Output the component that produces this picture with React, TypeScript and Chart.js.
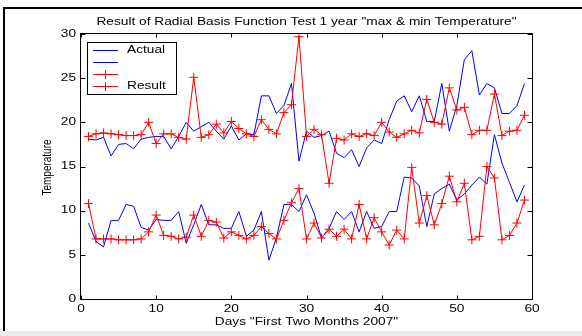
import React, { useEffect, useRef } from "react";
import { Chart, registerables } from "chart.js";

Chart.register(...registerables);

const days = [1, 2, 3, 4, 5, 6, 7, 8, 9, 10, 11, 12, 13, 14, 15, 16, 17, 18, 19, 20, 21, 22, 23, 24, 25, 26, 27, 28, 29, 30, 31, 32, 33, 34, 35, 36, 37, 38, 39, 40, 41, 42, 43, 44, 45, 46, 47, 48, 49, 50, 51, 52, 53, 54, 55, 56, 57, 58, 59];

const actualMax = [18.1, 18.0, 18.3, 16.2, 17.5, 17.6, 17.0, 18.1, 18.3, 18.4, 18.4, 17.0, 18.4, 20.0, 19.0, 19.5, 20.0, 19.0, 18.1, 19.6, 18.0, 18.7, 18.6, 23.0, 23.0, 21.0, 21.9, 24.4, 15.6, 19.0, 18.3, 18.5, 19.0, 16.5, 16.0, 16.9, 15.0, 17.1, 18.0, 17.6, 20.3, 22.4, 23.0, 21.2, 23.0, 20.1, 20.1, 24.4, 19.0, 21.9, 27.1, 28.1, 23.1, 24.4, 23.9, 21.0, 21.0, 21.9, 24.4];

const actualMin = [8.6, 6.5, 5.9, 8.9, 8.9, 10.7, 10.5, 8.1, 7.8, 9.0, 8.9, 8.9, 9.9, 6.3, 8.4, 10.7, 8.4, 8.4, 8.0, 8.0, 9.9, 7.1, 7.8, 9.9, 4.4, 6.9, 10.7, 10.7, 9.9, 11.8, 9.7, 6.9, 8.0, 9.9, 9.0, 9.9, 7.6, 9.9, 8.0, 8.2, 9.9, 9.9, 13.8, 13.7, 12.8, 8.2, 11.9, 12.5, 13.0, 11.2, 11.9, 12.9, 13.8, 13.0, 18.6, 15.4, 13.2, 11.0, 12.9];

const resultMin = [10.8, 6.8, 6.8, 6.8, 6.7, 6.7, 6.7, 6.8, 7.6, 9.5, 7.2, 7.1, 6.8, 7.0, 9.5, 7.1, 8.9, 8.7, 6.9, 7.6, 7.2, 6.8, 7.2, 8.2, 7.4, 6.8, 8.9, 10.9, 12.5, 6.8, 8.6, 6.9, 7.9, 7.1, 7.9, 6.8, 10.7, 6.8, 9.2, 7.6, 6.1, 7.8, 6.8, 14.9, 8.6, 11.7, 8.4, 10.8, 13.9, 11.0, 13.1, 6.7, 7.1, 15.0, 13.7, 6.7, 7.2, 8.6, 11.2];

const resultMax = [18.4, 18.7, 18.8, 18.7, 18.6, 18.5, 18.5, 18.6, 20.0, 17.6, 18.7, 18.7, 18.3, 18.1, 25.1, 18.3, 18.6, 19.8, 18.8, 20.1, 19.3, 18.7, 18.4, 20.3, 19.2, 18.7, 21.1, 22.0, 29.7, 18.4, 19.2, 18.6, 13.1, 18.2, 18.0, 18.7, 18.4, 18.7, 18.5, 20.0, 18.9, 18.3, 18.7, 19.1, 18.8, 22.6, 20.0, 19.8, 23.9, 21.4, 21.7, 18.6, 19.1, 19.1, 23.2, 18.5, 19.0, 19.1, 20.8];

const xTicks = [0, 10, 20, 30, 40, 50, 60];
const yTicks = [0, 5, 10, 15, 20, 25, 30];
const titleText = 'Result of Radial Basis Function Test 1 year "max & min Temperature"';
const xLabel = 'Days "First Two Months 2007"';
const yLabel = "Temperature";
const legendLabels = ["Actual", "", "", "Result"];

const BLUE = "#0000ff";
const RED = "#ff0000";
const SX = 1.37;
const FONT = "10px 'Liberation Sans', Arial, Helvetica, sans-serif";

function sText(ctx: CanvasRenderingContext2D, text: string, x: number, y: number, align: CanvasTextAlign, rotate = false) {
  ctx.save();
  ctx.translate(x, y);
  ctx.scale(SX, 1);
  if (rotate) ctx.rotate(-Math.PI / 2);
  ctx.font = FONT;
  ctx.fillStyle = "#000";
  ctx.textAlign = align;
  ctx.textBaseline = "middle";
  ctx.fillText(text, 0, 0);
  ctx.restore();
}

const framePlugin = {
  id: "frame",
  beforeDraw(chart: any) {
    const ctx = chart.ctx as CanvasRenderingContext2D;
    ctx.save();
    ctx.fillStyle = "#ffffff";
    ctx.fillRect(0, 0, chart.width, chart.height);
    ctx.fillStyle = "#ececec";
    ctx.fillRect(0, 331, chart.width, chart.height - 331);
    ctx.fillStyle = "#000";
    ctx.fillRect(3, 7, chart.width - 3, 2);
    ctx.fillRect(3, 7, 2, 324);
    ctx.restore();
  },
  afterDraw(chart: any) {
    const ctx = chart.ctx as CanvasRenderingContext2D;
    const { left, right, top, bottom } = chart.chartArea;
    const xs = chart.scales.x;
    const ys = chart.scales.y;
    ctx.save();
    ctx.strokeStyle = "#000";
    ctx.lineWidth = 1;
    const L = Math.round(left) - 0.5, R = Math.round(right) + 0.5, T = Math.round(top) - 0.5, B = Math.round(bottom) + 0.5;
    ctx.strokeRect(L, T, R - L, B - T);
    ctx.beginPath();
    xTicks.forEach((v) => {
      const px = Math.round(xs.getPixelForValue(v)) + 0.5;
      ctx.moveTo(px, B);
      ctx.lineTo(px, B - 4);
      ctx.moveTo(px, T);
      ctx.lineTo(px, T + 4);
    });
    yTicks.forEach((v) => {
      const py = Math.round(ys.getPixelForValue(v)) + 0.5;
      ctx.moveTo(L, py);
      ctx.lineTo(L + 5, py);
      ctx.moveTo(R, py);
      ctx.lineTo(R - 5, py);
    });
    ctx.stroke();
    ctx.restore();

    xTicks.forEach((v) => sText(ctx, String(v), xs.getPixelForValue(v), 309, "center"));
    yTicks.forEach((v) => sText(ctx, String(v), 76, ys.getPixelForValue(v), "right"));
    const cx = (left + right) / 2;
    sText(ctx, titleText, cx, 22.5, "center");
    sText(ctx, xLabel, cx, 322.5, "center");
    sText(ctx, yLabel, 47.5, (top + bottom) / 2 + 1, "center", true);

    // legend
    ctx.save();
    ctx.fillStyle = "#fff";
    ctx.strokeStyle = "#000";
    ctx.lineWidth = 1;
    ctx.fillRect(87.5, 42.5, 89, 52);
    ctx.strokeRect(87.5, 42.5, 89, 52);
    const rows = [50.5, 62.5, 74.5, 86.5];
    const ds = chart.data.datasets;
    rows.forEach((ry, i) => {
      const d = ds[i];
      ctx.strokeStyle = d.borderColor;
      ctx.lineWidth = 1;
      ctx.beginPath();
      ctx.moveTo(93, ry);
      ctx.lineTo(118, ry);
      ctx.stroke();
      if (d.pointRadius > 0) {
        const cxm = 105.5;
        const r = 4.5;
        ctx.beginPath();
        ctx.moveTo(cxm - r, ry);
        ctx.lineTo(cxm + r, ry);
        ctx.moveTo(cxm, ry - r);
        ctx.lineTo(cxm, ry + r);
        ctx.stroke();
      }
      if (legendLabels[i]) sText(ctx, legendLabels[i], 127, ry, "left");
    });
    ctx.restore();
  },
};

export default function App() {
  const ref = useRef<HTMLCanvasElement | null>(null);
  useEffect(() => {
    document.body.style.margin = "0";
    const canvas = ref.current!;
    const mk = (arr: number[]) => days.map((d, i) => ({ x: d, y: arr[i] }));
    const chart = new Chart(canvas, {
      type: "line",
      data: {
        datasets: [
          { label: legendLabels[0], data: mk(actualMax), borderColor: BLUE, backgroundColor: BLUE, borderWidth: 1, pointRadius: 0, tension: 0, fill: false, order: 2 },
          { label: legendLabels[1], data: mk(actualMin), borderColor: BLUE, backgroundColor: BLUE, borderWidth: 1, pointRadius: 0, tension: 0, fill: false, order: 2 },
          { label: legendLabels[2], data: mk(resultMin), borderColor: RED, backgroundColor: RED, borderWidth: 1, pointStyle: "cross", pointRadius: 4.5, pointBorderColor: RED, pointBorderWidth: 1, tension: 0, fill: false, order: 1 },
          { label: legendLabels[3], data: mk(resultMax), borderColor: RED, backgroundColor: RED, borderWidth: 1, pointStyle: "cross", pointRadius: 4.5, pointBorderColor: RED, pointBorderWidth: 1, tension: 0, fill: false, order: 0 },
        ],
      } as any,
      options: {
        responsive: false,
        animation: false,
        events: [],
        layout: { padding: { left: 0, right: 50, top: 34, bottom: 0 } },
        plugins: { legend: { display: false }, tooltip: { enabled: false }, title: { display: false } },
        scales: {
          x: {
            type: "linear",
            min: 0,
            max: 60,
            ticks: { display: false, stepSize: 10 },
            grid: { display: false, drawTicks: false },
            border: { display: false },
            afterFit: (s: any) => { s.height = 37; },
          },
          y: {
            type: "linear",
            min: 0,
            max: 30,
            ticks: { display: false, stepSize: 5 },
            grid: { display: false, drawTicks: false },
            border: { display: false },
            afterFit: (s: any) => { s.width = 81; },
          },
        },
      } as any,
      plugins: [framePlugin],
    });
    return () => chart.destroy();
  }, []);
  return (
    <div style={{ width: 582, height: 336 }}>
      <canvas ref={ref} width={582} height={336} style={{ display: "block", width: 582, height: 336 }} />
    </div>
  );
}
